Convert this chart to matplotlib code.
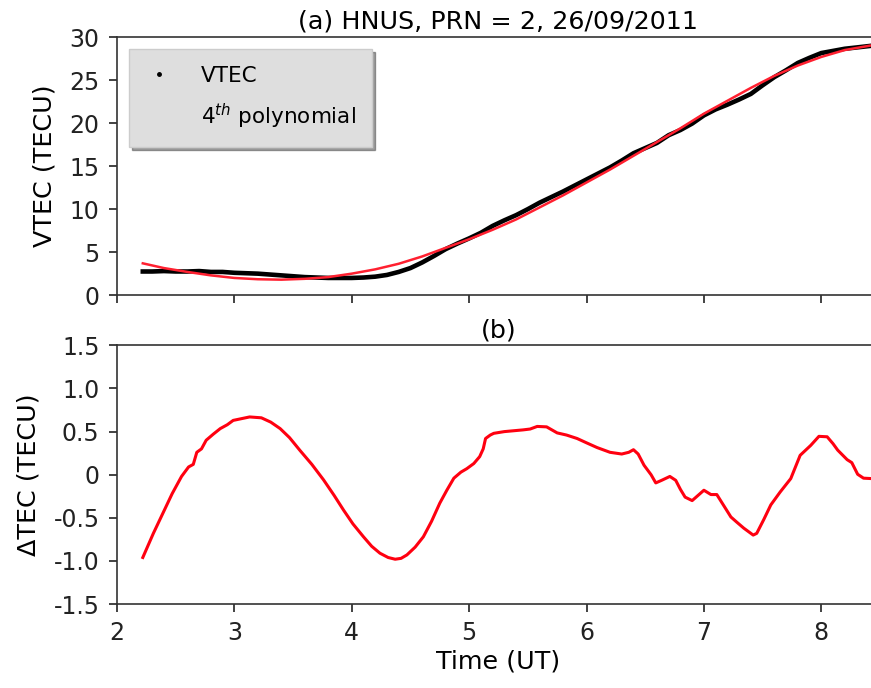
import numpy as np
import matplotlib
matplotlib.use("Agg")
import matplotlib.pyplot as plt
from matplotlib.lines import Line2D

# VTEC (black) and 4th polynomial fit (red)
vtec_t = [2.22, 2.3, 2.4, 2.5, 2.6, 2.7, 2.8, 2.9, 3.0, 3.1, 3.2, 3.3, 3.4, 3.5,
          3.6, 3.7, 3.8, 3.9, 4.0, 4.1, 4.2, 4.3, 4.4, 4.5, 4.6, 4.7, 4.8, 4.9,
          5.0, 5.1, 5.2, 5.3, 5.4, 5.5, 5.6, 5.7, 5.8, 5.9, 6.0, 6.1, 6.2, 6.3,
          6.4, 6.5, 6.6, 6.7, 6.8, 6.9, 7.0, 7.1, 7.2, 7.3, 7.4, 7.5, 7.6, 7.7,
          7.8, 7.9, 8.0, 8.1, 8.2, 8.3, 8.43]
vtec_v = [2.75, 2.75, 2.8, 2.75, 2.75, 2.8, 2.7, 2.7, 2.6, 2.55, 2.5, 2.4, 2.3, 2.2,
          2.1, 2.05, 2.0, 2.0, 2.0, 2.05, 2.15, 2.35, 2.7, 3.15, 3.8, 4.55, 5.35, 6.0,
          6.6, 7.25, 8.05, 8.7, 9.3, 10.0, 10.75, 11.4, 12.05, 12.75, 13.45, 14.15, 14.85, 15.65,
          16.5, 17.1, 17.7, 18.6, 19.2, 19.95, 20.9, 21.6, 22.15, 22.75, 23.4, 24.4, 25.35, 26.15,
          27.0, 27.6, 28.15, 28.4, 28.65, 28.8, 29.0]

poly_t = [2.22, 2.4, 2.6, 2.8, 3.0, 3.2, 3.4, 3.6, 3.8, 4.0, 4.2, 4.4, 4.6, 4.8,
          5.0, 5.2, 5.4, 5.6, 5.8, 6.0, 6.2, 6.4, 6.6, 6.8, 7.0, 7.2, 7.4, 7.6,
          7.8, 8.0, 8.2, 8.43]
poly_v = [3.7, 3.15, 2.7, 2.3, 2.0, 1.85, 1.8, 1.9, 2.1, 2.5, 3.0, 3.65, 4.5, 5.5,
          6.5, 7.6, 8.8, 10.2, 11.6, 13.1, 14.6, 16.2, 17.8, 19.4, 21.1, 22.6, 24.1, 25.5,
          26.7, 27.7, 28.5, 29.05]

# delta TEC (VTEC minus fit)
dtec_t = [2.22, 2.31, 2.39, 2.47, 2.55, 2.61, 2.65, 2.68, 2.72, 2.76, 2.82, 2.88,
          2.94, 2.99, 3.06, 3.13, 3.23, 3.31, 3.39, 3.47, 3.56, 3.66, 3.76, 3.85,
          3.93, 4.01, 4.10, 4.17, 4.24, 4.31, 4.37, 4.42, 4.47, 4.54, 4.61, 4.68,
          4.75, 4.81, 4.87, 4.93, 4.98, 5.04, 5.09, 5.12, 5.14, 5.18, 5.21, 5.30,
          5.38, 5.46, 5.52, 5.58, 5.66, 5.75, 5.83, 5.92, 6.00, 6.09, 6.20, 6.30,
          6.36, 6.40, 6.44, 6.49, 6.55, 6.59, 6.64, 6.71, 6.76, 6.80, 6.84, 6.90,
          6.95, 7.00, 7.06, 7.11, 7.17, 7.23, 7.28, 7.34, 7.42, 7.45, 7.51, 7.57,
          7.65, 7.74, 7.82, 7.91, 7.98, 8.05, 8.10, 8.14, 8.22, 8.26, 8.31, 8.36, 8.43]
dtec_v = [-0.96, -0.68, -0.45, -0.22, -0.02, 0.09, 0.12, 0.26, 0.30, 0.40, 0.47, 0.535,
          0.58, 0.63, 0.65, 0.67, 0.66, 0.61, 0.535, 0.43, 0.28, 0.12, -0.06, -0.24,
          -0.41, -0.57, -0.72, -0.83, -0.91, -0.96, -0.98, -0.97, -0.93, -0.84, -0.72, -0.54,
          -0.33, -0.18, -0.04, 0.03, 0.07, 0.13, 0.21, 0.30, 0.42, 0.46, 0.48, 0.50,
          0.51, 0.52, 0.53, 0.56, 0.555, 0.485, 0.46, 0.42, 0.37, 0.315, 0.26, 0.24,
          0.26, 0.29, 0.24, 0.11, 0.0, -0.095, -0.065, -0.02, -0.065, -0.17, -0.26, -0.30,
          -0.24, -0.18, -0.23, -0.23, -0.36, -0.49, -0.55, -0.62, -0.70, -0.68, -0.52, -0.35,
          -0.20, -0.045, 0.225, 0.34, 0.445, 0.44, 0.36, 0.285, 0.175, 0.14, 0.005, -0.04, -0.045]

vtec_ticks = [0, 5, 10, 15, 20, 25, 30]
dtec_ticks = [1.5, 1.0, 0.5, 0, -0.5, -1.0, -1.5]
dtec_labels = ['1.5', '1.0', '0.5', '0', '-0.5', '-1.0', '-1.5']
time_ticks = [2, 3, 4, 5, 6, 7, 8]

plt.rcParams['font.family'] = 'DejaVu Sans'
plt.rcParams['font.size'] = 17

fig = plt.figure(figsize=(8.71, 6.88), dpi=100)
# the original is cut off on the right, so the axes run past the figure edge
ax1 = fig.add_axes([0.1343, 0.571, 0.876, 0.375])
ax2 = fig.add_axes([0.1343, 0.122, 0.876, 0.376])

for ax in (ax1, ax2):
    ax.set_xlim(2, 8.5)
    ax.set_xticks(time_ticks)
    ax.tick_params(direction='out', length=6, width=1.2, pad=6.5,
                   colors='#222222', labelcolor='#222222', labelsize=17)
    for s in ax.spines.values():
        s.set_linewidth(1.2)
        s.set_color('#333333')

ax1.plot(vtec_t, vtec_v, color='black', lw=3.3, zorder=2)
ax1.plot(poly_t, poly_v, color='#ff2030', lw=1.8, zorder=3)
ax1.set_ylim(0, 30)
ax1.set_yticks(vtec_ticks)
ax1.set_xticklabels([])
ax1.set_ylabel('VTEC (TECU)', fontsize=18.3, labelpad=9)
ax1.set_title('(a) HNUS, PRN = 2, 26/09/2011', fontsize=18.3, pad=6)

h1 = Line2D([], [], color='black', marker='.', ls='none', markersize=5)
h2 = Line2D([], [], color='none', ls='none')
leg = ax1.legend([h1, h2], ['VTEC', '4$^{th}$ polynomial'], loc='upper left',
                 fontsize=15.5, shadow=True, fancybox=False, framealpha=1,
                 facecolor='#dedede', edgecolor='#cccccc', handlelength=1.3,
                 handletextpad=1.3, borderpad=0.75, labelspacing=0.75,
                 bbox_to_anchor=(0.003, 0.99), borderaxespad=0.45)

ax2.plot(dtec_t, dtec_v, color='#ff0010', lw=2.2)
ax2.set_ylim(-1.5, 1.5)
ax2.set_yticks(dtec_ticks)
ax2.set_yticklabels(dtec_labels)
ax2.set_ylabel('ΔTEC (TECU)', fontsize=18.3, labelpad=9)
ax2.set_xlabel('Time (UT)', fontsize=18.3, labelpad=3)
ax2.set_title('(b)', fontsize=18.3, pad=6)

fig.savefig('out.png', dpi=100)
